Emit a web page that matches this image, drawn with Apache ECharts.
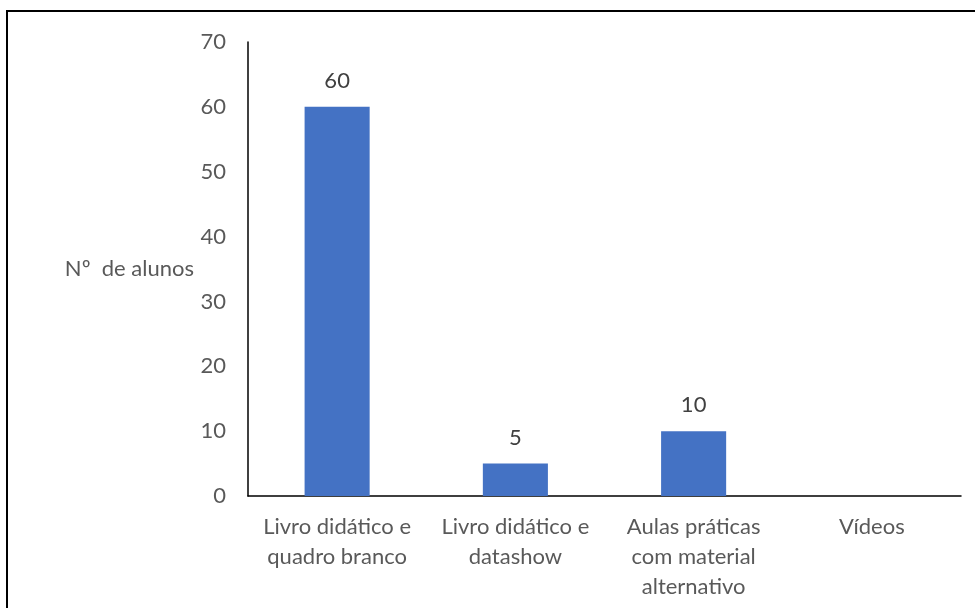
<!DOCTYPE html>
<html>
<head>
<meta charset="utf-8">
<script src="https://cdn.jsdelivr.net/npm/echarts@6/dist/echarts.min.js"></script>
<style>
  html, body { margin: 0; padding: 0; background: #fff; }
  #chart { width: 975px; height: 608px; }
</style>
</head>
<body>
<div id="chart"></div>
<script>
// Recursos utilizados nas aulas e número de alunos
const categories = [
  'Livro didático e\nquadro branco',
  'Livro didático e\ndatashow',
  'Aulas práticas\ncom material\nalternativo',
  'Vídeos'
];
const alunos = [60, 5, 10, 0];
const yTicks = { min: 0, max: 70, interval: 10 };
const yTitle = 'Nº  de alunos';

const FONT = 'Lato, "Open Sans", sans-serif';
const FS = 22;
const chart = echarts.init(document.getElementById('chart'), null, { renderer: 'canvas' });

chart.setOption({
  backgroundColor: '#ffffff',
  animation: false,
  textStyle: { fontFamily: FONT },
  graphic: [{
    type: 'rect',
    shape: { x: 7, y: 11, width: 1000, height: 640 },
    style: { fill: 'none', stroke: '#000000', lineWidth: 2 },
    silent: true
  }],
  grid: { left: 248, right: 14, top: 42, bottom: 112, containLabel: false },
  xAxis: {
    type: 'category',
    data: categories,
    axisLine: { show: true, lineStyle: { color: '#000000', width: 1.5 } },
    axisTick: { show: false },
    axisLabel: {
      color: '#595959', fontSize: FS, fontFamily: FONT,
      lineHeight: 30, margin: 16, interval: 0
    },
    splitLine: { show: false }
  },
  yAxis: {
    type: 'value',
    min: yTicks.min, max: yTicks.max, interval: yTicks.interval,
    name: yTitle,
    nameLocation: 'middle',
    nameRotate: 0,
    nameGap: 54,
    nameTextStyle: { color: '#595959', fontSize: FS, fontFamily: FONT },
    axisLine: { show: true, lineStyle: { color: '#000000', width: 1.5 } },
    axisTick: { show: false },
    axisLabel: { color: '#595959', fontSize: FS, fontFamily: FONT, margin: 22 },
    splitLine: { show: false }
  },
  series: [{
    type: 'bar',
    data: alunos,
    barWidth: '36.5%',
    itemStyle: { color: '#4472C4' },
    label: {
      show: true,
      position: 'top',
      distance: 15,
      color: '#404040',
      fontSize: FS,
      fontFamily: FONT,
      formatter: p => (p.value === 0 ? '' : String(p.value))
    }
  }]
});
</script>
</body>
</html>
